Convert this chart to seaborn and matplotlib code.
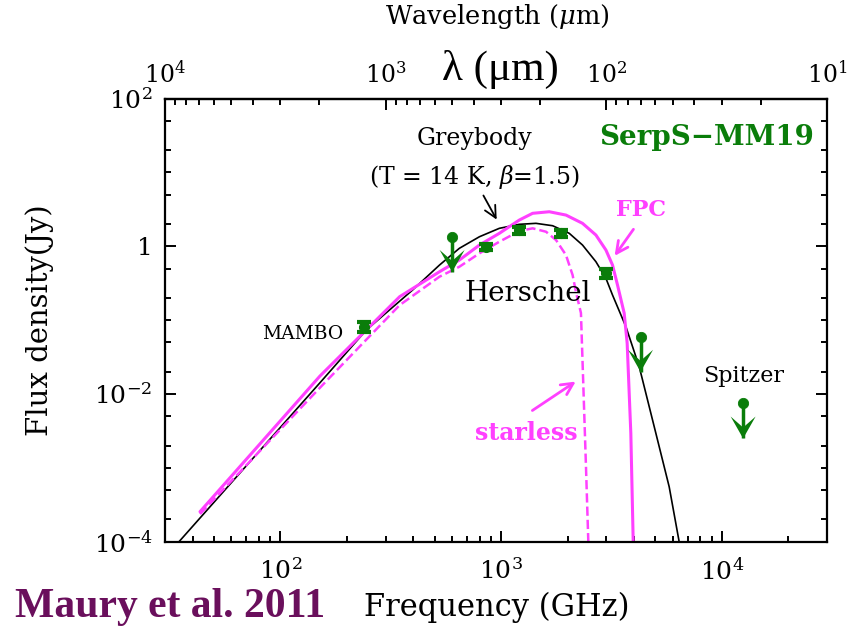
import numpy as np
import pandas as pd
import matplotlib
matplotlib.use("Agg")
import matplotlib.pyplot as plt
import seaborn as sns
from matplotlib.path import Path
from matplotlib.markers import MarkerStyle
from matplotlib.ticker import LogLocator, FixedLocator, FuncFormatter, NullFormatter

# ---------------- data ----------------
# Greybody (T = 14 K, beta = 1.5) model, frequency in GHz, flux in Jy
grey_nu = [34.7, 155, 245, 397, 526, 647, 798, 982, 1210, 1439, 1712, 2037,
           2339, 2690, 2986, 3199, 3679, 4228, 5026, 5778, 6412]
grey_flux = [1.0e-4, 0.0155, 0.0736, 0.256, 0.558, 0.940, 1.349, 1.753, 1.986,
             2.048, 1.901, 1.500, 1.041, 0.619, 0.369, 0.219, 0.0815, 0.0234,
             0.00296, 5.55e-4, 1.0e-4]

# FPC model (solid magenta)
fpc_nu = [43.2, 151, 347, 526, 647, 798, 982, 1210, 1390, 1654, 1968, 2339,
          2690, 2986, 3199, 3370, 3612, 3727, 3872, 3970]
fpc_flux = [2.55e-4, 0.0175, 0.208, 0.453, 0.652, 1.041, 1.500, 2.27, 2.80,
            2.94, 2.65, 2.048, 1.422, 0.891, 0.558, 0.299, 0.125, 0.049,
            0.00296, 1.0e-4]

# Starless model (dashed magenta)
sl_nu = [43.2, 155, 347, 526, 647, 798, 982, 1210, 1390, 1598, 1774, 1968,
         2109, 2183, 2301, 2357, 2425, 2485]
sl_flux = [2.37e-4, 0.0132, 0.160, 0.388, 0.529, 0.804, 1.154, 1.611, 1.753,
           1.577, 1.217, 0.762, 0.409, 0.243, 0.125, 0.0141, 1.04e-3, 1.0e-4]

# Detections (MAMBO 1.2 mm, Herschel 350, 250, 160, 100 um)
det_nu = [240, 857, 1200, 1875, 3000]
det_flux = [0.082, 0.99, 1.66, 1.50, 0.43]
det_err = [0.012, 0.10, 0.17, 0.15, 0.06]

# Upper limits (Herschel 500 um, 70 um, Spitzer 24 um)
ul_nu = [600, 4286, 12500]
ul_top = [1.35, 0.0586, 0.0076]
ul_tip = [0.45, 0.020, 0.0025]

y_major = [1e-4, 1e-2, 1, 1e2]
y_labels = [r"$10^{-4}$", r"$10^{-2}$", "1", r"$10^{2}$"]
lam_major = [10, 100, 1000, 10000]

# ---------------- style ----------------
sns.set_theme(style="ticks")
plt.rcParams["font.family"] = ["DejaVu Serif"]
plt.rcParams["mathtext.fontset"] = "dejavuserif"
for k in ["text.color", "axes.labelcolor", "xtick.color", "ytick.color",
          "axes.edgecolor"]:
    plt.rcParams[k] = "black"

GREEN = "#0a7d0a"
MAG = "#ff40ff"
PURPLE = "#6a0f5c"

fig = plt.figure(figsize=(8.65, 6.27), dpi=100)
ax = fig.add_axes([0.1908, 0.1360, 0.7653, 0.7067])
ax.set_xscale("log")
ax.set_yscale("log")
ax.set_xlim(30, 30000)
ax.set_ylim(1e-4, 1e2)

# curves
sns.lineplot(x=grey_nu, y=grey_flux, ax=ax, color="black", lw=1.2,
             sort=False, estimator=None)
sns.lineplot(x=fpc_nu, y=fpc_flux, ax=ax, color=MAG, lw=2.2,
             sort=False, estimator=None)
sns.lineplot(x=sl_nu, y=sl_flux, ax=ax, color=MAG, lw=1.8, linestyle="--",
             sort=False, estimator=None)

# detections
ax.errorbar(det_nu, det_flux, yerr=det_err, fmt="o", color=GREEN, ms=7,
            elinewidth=2.5, capsize=5, capthick=3, zorder=5)

# upper limits: stem + dot + notched arrow head
ax.vlines(ul_nu, ul_tip, ul_top, color=GREEN, lw=2.5, zorder=5)
sns.scatterplot(x=ul_nu, y=ul_top, ax=ax, color=GREEN, s=55,
                edgecolor=GREEN, zorder=6)
head = Path([(0, 0), (-12.5, 22), (0, 11), (12.5, 22), (0, 0)],
            [Path.MOVETO, Path.LINETO, Path.LINETO, Path.LINETO, Path.CLOSEPOLY])
ax.scatter(ul_nu, ul_tip, marker=MarkerStyle(head), s=1000, color=GREEN,
           edgecolors="none", zorder=6)

# ticks & labels
for s in ax.spines.values():
    s.set_linewidth(1.6)
    s.set_color("black")
ax.yaxis.set_major_locator(FixedLocator(y_major))
ax.yaxis.set_major_formatter(FuncFormatter(
    lambda v, p: y_labels[y_major.index(v)] if v in y_major else ""))
ax.yaxis.set_minor_locator(LogLocator(base=10, subs=(1.0, 2.0, 5.0), numticks=50))
ax.yaxis.set_minor_formatter(NullFormatter())
ax.xaxis.set_major_locator(FixedLocator([100, 1000, 10000]))
ax.xaxis.set_major_formatter(FuncFormatter(
    lambda v, p: r"$10^{%d}$" % int(round(np.log10(v)))))
ax.xaxis.set_minor_locator(LogLocator(base=10, subs=np.arange(2, 10), numticks=50))
ax.xaxis.set_minor_formatter(NullFormatter())
ax.tick_params(which="both", direction="in", right=True, top=False,
               color="black", width=1.4)
ax.tick_params(which="major", length=8)
ax.tick_params(which="minor", length=4)
ax.tick_params(axis="x", which="major", labelsize=18, pad=12)
ax.tick_params(axis="y", which="major", labelsize=18, pad=9)
ax.set_xlabel("")
ax.set_ylabel("")

sec = ax.secondary_xaxis("top", functions=(lambda nu: 3e5 / nu,
                                           lambda lam: 3e5 / lam))
sec.xaxis.set_major_locator(FixedLocator(lam_major))
sec.xaxis.set_major_formatter(FuncFormatter(
    lambda v, p: r"$10^{%d}$" % int(round(np.log10(v)))))
sec.xaxis.set_minor_locator(LogLocator(base=10, subs=np.arange(2, 10), numticks=50))
sec.xaxis.set_minor_formatter(NullFormatter())
sec.tick_params(which="both", direction="in", color="black", width=1.4)
sec.tick_params(which="major", length=8, labelsize=17, pad=8)
sec.tick_params(which="minor", length=4)
sec.spines["top"].set_linewidth(1.6)

# in-plot annotations
T = ax.transAxes
ax.text(0.4668, 0.911, "Greybody", transform=T, ha="center", va="center",
        fontsize=17)
ax.text(0.4668, 0.8229, r"(T = 14 K, $\beta$=1.5)", transform=T, ha="center",
        va="center", fontsize=17)
ax.text(0.8187, 0.9133, "SerpS\u2212MM19", transform=T, ha="center",
        va="center", fontsize=20, fontweight="bold", color=GREEN)
ax.text(0.719, 0.7486, "FPC", transform=T, ha="center", va="center",
        fontsize=16, fontweight="bold", color=MAG)
ax.text(0.5483, 0.5613, "Herschel", transform=T, ha="center", va="center",
        fontsize=20)
ax.text(0.2085, 0.4688, "MAMBO", transform=T, ha="center", va="center",
        fontsize=13.5)
ax.text(0.5453, 0.2453, "starless", transform=T, ha="center", va="center",
        fontsize=17, fontweight="bold", color=MAG)
ax.text(0.8746, 0.374, "Spitzer", transform=T, ha="center", va="center",
        fontsize=16)

ax.annotate("", xy=(0.503, 0.7215), xytext=(0.4789, 0.7869),
            xycoords="axes fraction",
            arrowprops=dict(arrowstyle="->,head_length=0.7,head_width=0.35",
                            color="black", lw=1.3))
ax.annotate("", xy=(0.6767, 0.640), xytext=(0.71, 0.7102),
            xycoords="axes fraction",
            arrowprops=dict(arrowstyle="->,head_length=0.7,head_width=0.35",
                            color=MAG, lw=2))
ax.annotate("", xy=(0.6239, 0.365), xytext=(0.5514, 0.2927),
            xycoords="axes fraction",
            arrowprops=dict(arrowstyle="->,head_length=0.7,head_width=0.35",
                            color=MAG, lw=2))

# figure-level texts
fig.text(0.5746, 0.9729, r"Wavelength ($\mu$m)", ha="center", va="center",
         fontsize=18.5)
fig.text(0.578, 0.8884, "\u03bb (\u03bcm)", ha="center", va="center",
         fontsize=31, family=["Liberation Serif", "DejaVu Serif"])
fig.text(0.5746, 0.0319, "Frequency (GHz)", ha="center", va="center",
         fontsize=22)
fig.text(0.1965, 0.0319, "Maury et al. 2011", ha="center", va="center",
         fontsize=30, fontweight="bold", color=PURPLE,
         family=["Liberation Serif", "DejaVu Serif"])
fig.text(0.0462, 0.4896, "Flux density(Jy)", ha="center", va="center",
         rotation=90, fontsize=21)

fig.savefig("out.png", dpi=100)
